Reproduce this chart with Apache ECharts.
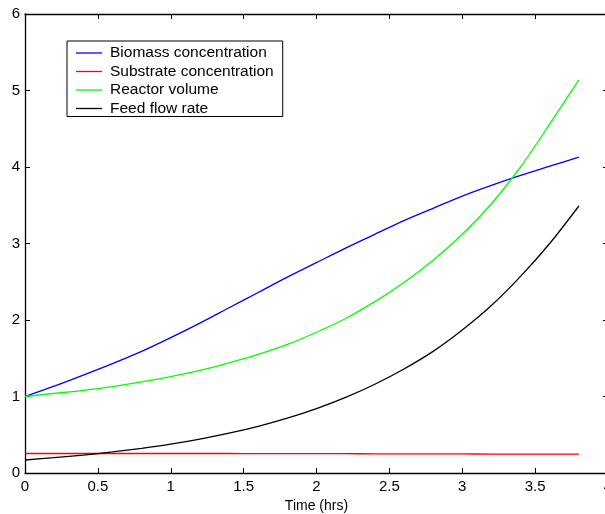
<!DOCTYPE html>
<html>
<head>
<meta charset="utf-8">
<script src="https://cdn.jsdelivr.net/npm/echarts@6/dist/echarts.min.js"></script>
<style>
html,body{margin:0;padding:0;background:#fff;}
#chart{width:605px;height:514px;}
</style>
</head>
<body>
<div id="chart"></div>
<script>
// Time (hrs)
const time      = [0, 0.2, 0.4, 0.6, 0.8, 1.0, 1.2, 1.4, 1.6, 1.8, 2.0, 2.2, 2.4, 2.6, 2.8, 3.0, 3.2, 3.4, 3.6, 3.8];
const biomass   = [1.00, 1.135, 1.28, 1.43, 1.59, 1.77, 1.96, 2.16, 2.36, 2.56, 2.75, 2.94, 3.12, 3.30, 3.46, 3.62, 3.76, 3.89, 4.01, 4.13];
const substrate = [0.255, 0.255, 0.255, 0.255, 0.255, 0.255, 0.255, 0.255, 0.254, 0.254, 0.253, 0.252, 0.251, 0.251, 0.250, 0.249, 0.248, 0.248, 0.247, 0.247];
const volume    = [1.00, 1.04, 1.08, 1.13, 1.19, 1.26, 1.34, 1.44, 1.55, 1.68, 1.84, 2.02, 2.24, 2.49, 2.78, 3.12, 3.52, 4.00, 4.56, 5.14];
const feed      = [0.17, 0.20, 0.234, 0.275, 0.323, 0.378, 0.444, 0.521, 0.611, 0.717, 0.842, 0.988, 1.16, 1.36, 1.59, 1.87, 2.19, 2.57, 3.00, 3.49];

const seriesNames = ['Biomass concentration', 'Substrate concentration', 'Reactor volume', 'Feed flow rate'];
const seriesColors = ['#0000ff', '#ff0000', '#00ff00', '#000000'];
const seriesValues = [biomass, substrate, volume, feed];

const xTicks = { min: 0, max: 4, interval: 0.5 };
const yTicks = { min: 0, max: 6, interval: 1 };

const font = 'Liberation Sans, Arial, Helvetica, sans-serif';
const chart = echarts.init(document.getElementById('chart'), null, { renderer: 'canvas' });

function axisCommon() {
  return {
    axisLine: { show: true, onZero: false, lineStyle: { color: '#000', width: 1.3 } },
    axisTick: { show: true, inside: true, length: 5, lineStyle: { color: '#000', width: 1 } },
    splitLine: { show: false }
  };
}

chart.setOption({
  animation: false,
  backgroundColor: '#fff',
  grid: { left: 25, right: -3, top: 14, bottom: 41, containLabel: false, outerBoundsMode: 'none' },
  legend: {
    orient: 'vertical',
    left: 67,
    top: 41,
    padding: [4, 9, 0, 9],
    itemGap: 2.5,
    itemWidth: 26,
    itemHeight: 1.3,
    icon: 'rect',
    borderColor: '#000',
    borderWidth: 1,
    backgroundColor: '#fff',
    textStyle: { color: '#000', fontSize: 15.5, fontFamily: font, padding: [0, 0, 0, 3] },
    data: seriesNames
  },
  xAxis: [
    Object.assign({
      type: 'value', position: 'bottom',
      min: xTicks.min, max: xTicks.max, interval: xTicks.interval,
      name: 'Time (hrs)', nameLocation: 'middle', nameGap: 24,
      nameTextStyle: { color: '#000', fontSize: 14, fontFamily: font },
      axisLabel: { color: '#000', fontSize: 15, fontFamily: font, margin: 6 }
    }, axisCommon()),
    Object.assign({
      type: 'value', position: 'top',
      min: xTicks.min, max: xTicks.max, interval: xTicks.interval,
      axisLabel: { show: false }
    }, axisCommon())
  ],
  yAxis: [
    Object.assign({
      type: 'value', position: 'left',
      min: yTicks.min, max: yTicks.max, interval: yTicks.interval,
      axisLabel: { color: '#000', fontSize: 15, fontFamily: font, margin: 5 }
    }, axisCommon()),
    Object.assign({
      type: 'value', position: 'right',
      min: yTicks.min, max: yTicks.max, interval: yTicks.interval,
      axisLabel: { show: false }
    }, axisCommon())
  ],
  series: seriesNames.map((name, i) => ({
    name: name,
    type: 'line',
    xAxisIndex: 0,
    yAxisIndex: 0,
    smooth: 0.3,
    symbol: 'none',
    color: seriesColors[i],
    itemStyle: { color: seriesColors[i] },
    lineStyle: { color: seriesColors[i], width: 1.3 },
    data: time.map((t, j) => [t, seriesValues[i][j]])
  }))
});
</script>
</body>
</html>
